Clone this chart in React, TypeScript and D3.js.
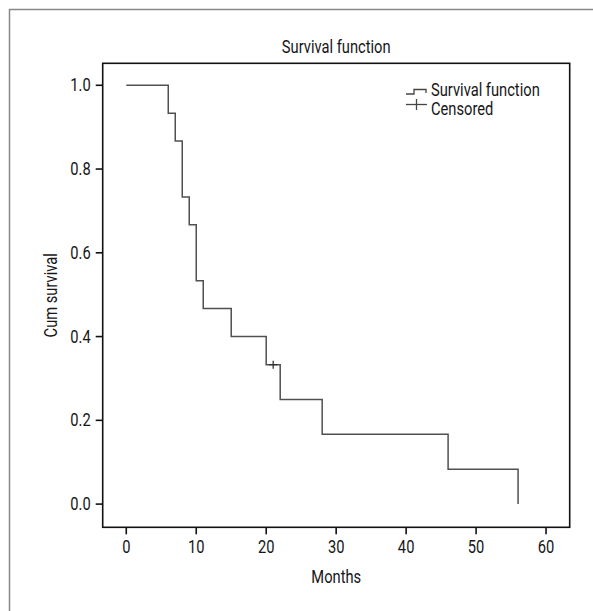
import React from 'react';
import * as d3 from 'd3';

// Kaplan-Meier estimate
const months = [0, 6, 7, 8, 9, 10, 11, 15, 20, 22, 28, 46, 56];
const cumSurvival = [1.0, 0.933, 0.867, 0.733, 0.667, 0.533, 0.467, 0.4, 0.333, 0.25, 0.167, 0.083, 0.0];
const censoredMonths = [21];
const censoredSurvival = [0.333];
const xTicks = [0, 10, 20, 30, 40, 50, 60];
const yTicks = [0.0, 0.2, 0.4, 0.6, 0.8, 1.0];

const font = 'Roboto, "DejaVu Sans Condensed", sans-serif';

// condensed look: squeeze a normal font horizontally
function Label(props: { x: number; y: number; anchor?: string; rotate?: number; children: React.ReactNode }) {
    const rot = props.rotate ? ` rotate(${props.rotate})` : '';
    return (
        <text
            transform={`translate(${props.x}, ${props.y})${rot} scale(0.84, 1)`}
            textAnchor={props.anchor || 'start'}
            fontSize={17.5}
            fill="#161616"
        >
            {props.children}
        </text>
    );
}

export default function App() {
    const width = 593;
    const height = 611;
    const box = { left: 102.7, right: 569.7, top: 63.3, bottom: 527.3 };

    const x = d3.scaleLinear().domain([-3.37, 63.38]).range([box.left, box.right]);
    const y = d3.scaleLinear().domain([-0.0554, 1.0525]).range([box.bottom, box.top]);

    const points: [number, number][] = months.map((m, i) => [m, cumSurvival[i]]);
    const line = d3
        .line<[number, number]>()
        .x((d) => x(d[0]))
        .y((d) => y(d[1]))
        .curve(d3.curveStepAfter);

    const midX = (box.left + box.right) / 2;
    const midY = (box.top + box.bottom) / 2;

    return (
        <svg
            width={width}
            height={height}
            style={{ position: 'absolute', left: 0, top: 0, background: '#fff' }}
            fontFamily={font}
        >
            {/* outer frame, cut off on the right and bottom */}
            <rect x={9.5} y={9.5} width={700} height={700} fill="none" stroke="#888" strokeWidth={1.5} />

            <Label x={midX} y={53} anchor="middle">Survival function</Label>

            <rect
                x={box.left}
                y={box.top}
                width={box.right - box.left}
                height={box.bottom - box.top}
                fill="none"
                stroke="#111"
                strokeWidth={1.6}
            />

            {/* y axis */}
            {yTicks.map((t) => (
                <g key={'y' + t}>
                    <line x1={box.left - 7} x2={box.left} y1={y(t)} y2={y(t)} stroke="#111" strokeWidth={1.6} />
                    <Label x={box.left - 12} y={y(t) + 6} anchor="end">{t.toFixed(1)}</Label>
                </g>
            ))}

            {/* x axis */}
            {xTicks.map((t) => (
                <g key={'x' + t}>
                    <line x1={x(t)} x2={x(t)} y1={box.bottom} y2={box.bottom + 7} stroke="#111" strokeWidth={1.6} />
                    <Label x={x(t)} y={553} anchor="middle">{t}</Label>
                </g>
            ))}

            <Label x={midX} y={583} anchor="middle">Months</Label>
            <Label x={57} y={midY} anchor="middle" rotate={-90}>Cum survival</Label>

            {/* survival curve */}
            <path d={line(points) || ''} fill="none" stroke="#505050" strokeWidth={1.5} />

            {/* censored marks */}
            {censoredMonths.map((m, i) => (
                <g key={'c' + i} stroke="#333" strokeWidth={1.3}>
                    <line x1={x(m) - 4} x2={x(m) + 4} y1={y(censoredSurvival[i])} y2={y(censoredSurvival[i])} />
                    <line x1={x(m)} x2={x(m)} y1={y(censoredSurvival[i]) - 4} y2={y(censoredSurvival[i]) + 4} />
                </g>
            ))}

            {/* legend */}
            <path d="M406,94 H414 V89.5 H426 V93" fill="none" stroke="#444" strokeWidth={1.3} />
            <Label x={431} y={96}>Survival function</Label>
            <g stroke="#444" strokeWidth={1.3}>
                <line x1={406} x2={427} y1={104.5} y2={104.5} />
                <line x1={416.5} x2={416.5} y1={99} y2={110} />
            </g>
            <Label x={431} y={114.5}>Censored</Label>
        </svg>
    );
}
